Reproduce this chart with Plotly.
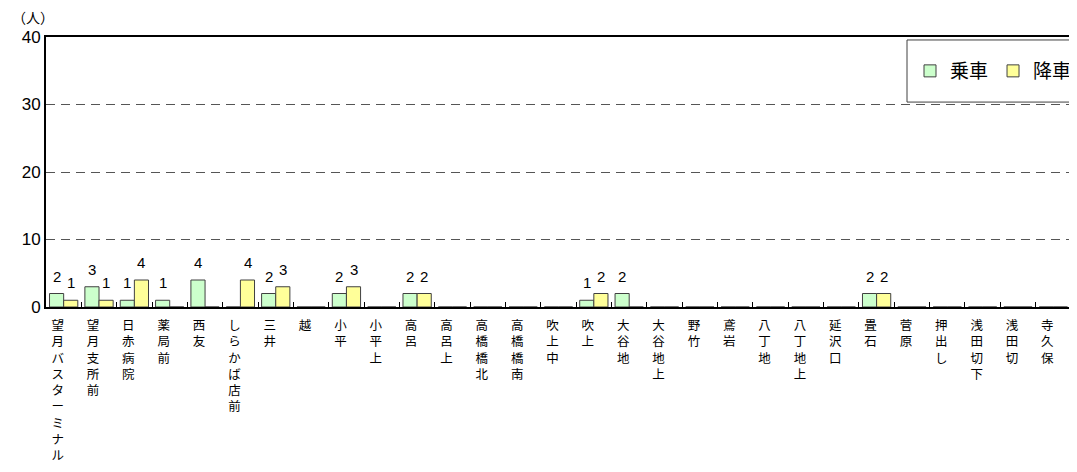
import plotly.graph_objects as go

# bus stops along the route
stops = [
    "望月バスターミナル", "望月支所前", "日赤病院", "薬局前", "西友", "しらかば店前",
    "三井", "越", "小平", "小平上", "高呂", "高呂上", "高橋橋北", "高橋橋南",
    "吹上中", "吹上", "大谷地", "大谷地上", "野竹", "鳶岩", "八丁地", "八丁地上",
    "延沢口", "畳石", "菅原", "押出し", "浅田切下", "浅田切", "寺久保",
]
boarding = [2, 3, 1, 1, 4, 0, 2, 0, 2, 0, 2, 0, 0, 0, 0, 1, 2, 0, 0, 0, 0, 0, 0, 2, 0, 0, 0, 0, 0]
alighting = [1, 1, 4, 0, 0, 4, 3, 0, 3, 0, 2, 0, 0, 0, 0, 2, 0, 0, 0, 0, 0, 0, 0, 2, 0, 0, 0, 0, 0]
y_ticks = [0, 10, 20, 30, 40]

# vertical labels: one character per line
vertical = ["<br>".join(s) for s in stops]

fig = go.Figure()
fig.add_bar(x=stops, y=boarding, name="乗車",
            marker=dict(color="#CCFFCC", line=dict(color="#404040", width=1)))
fig.add_bar(x=stops, y=alighting, name="降車",
            marker=dict(color="#FFFF99", line=dict(color="#404040", width=1)))

# value labels above non-zero bars
for vals, dx in ((boarding, -7.1), (alighting, 7.1)):
    for s, v in zip(stops, vals):
        if v:
            fig.add_annotation(x=s, y=v, text=str(v), showarrow=False,
                               xshift=dx, yshift=7, yanchor="bottom",
                               font=dict(family="Liberation Sans", size=15, color="black"))

# unit label (persons)
fig.add_annotation(xref="paper", yref="paper", x=-0.013, y=1.03, text="（人）",
                   showarrow=False, xanchor="center", yanchor="bottom",
                   font=dict(family="Noto Sans CJK JP", size=14, color="black"))

# legend frame
fig.add_shape(type="rect", xref="paper", yref="paper", x0=0.840, x1=1.02, y0=0.759, y1=0.989,
              line=dict(color="#404040", width=1), fillcolor="white", layer="above")

# the page body adds ~8px margin, so the figure is sized to fit the window
fig.update_layout(
    width=1069, height=464,
    margin=dict(l=38, r=0, t=29, b=165),
    plot_bgcolor="white", paper_bgcolor="white",
    barmode="group", bargap=0.2, bargroupgap=0,
    font=dict(family="Noto Sans CJK JP", color="black"),
    legend=dict(orientation="h", x=0.843, y=0.874, xanchor="left", yanchor="middle",
                bgcolor="rgba(0,0,0,0)", font=dict(size=19), itemwidth=30,
                traceorder="normal"),
)
fig.update_xaxes(
    tickmode="array", tickvals=stops, ticktext=vertical, tickangle=0,
    tickfont=dict(family="Noto Sans CJK JP", size=12.5, color="black"),
    ticks="inside", tickson="boundaries", ticklen=5, tickcolor="black", tickwidth=1,
    showline=True, linecolor="black", linewidth=2, mirror=True,
    ticklabelstandoff=6, ticklabelshift=-6, automargin=False,
)
fig.update_yaxes(
    range=[0, 40], tickvals=y_ticks, ticks="",
    tickfont=dict(family="Liberation Sans", size=17, color="black"),
    showline=True, linecolor="black", linewidth=2,
    showgrid=True, gridcolor="#555555", gridwidth=1, griddash="9px,6px",
    zeroline=False, automargin=False,
)

fig.write_html("out.html")
